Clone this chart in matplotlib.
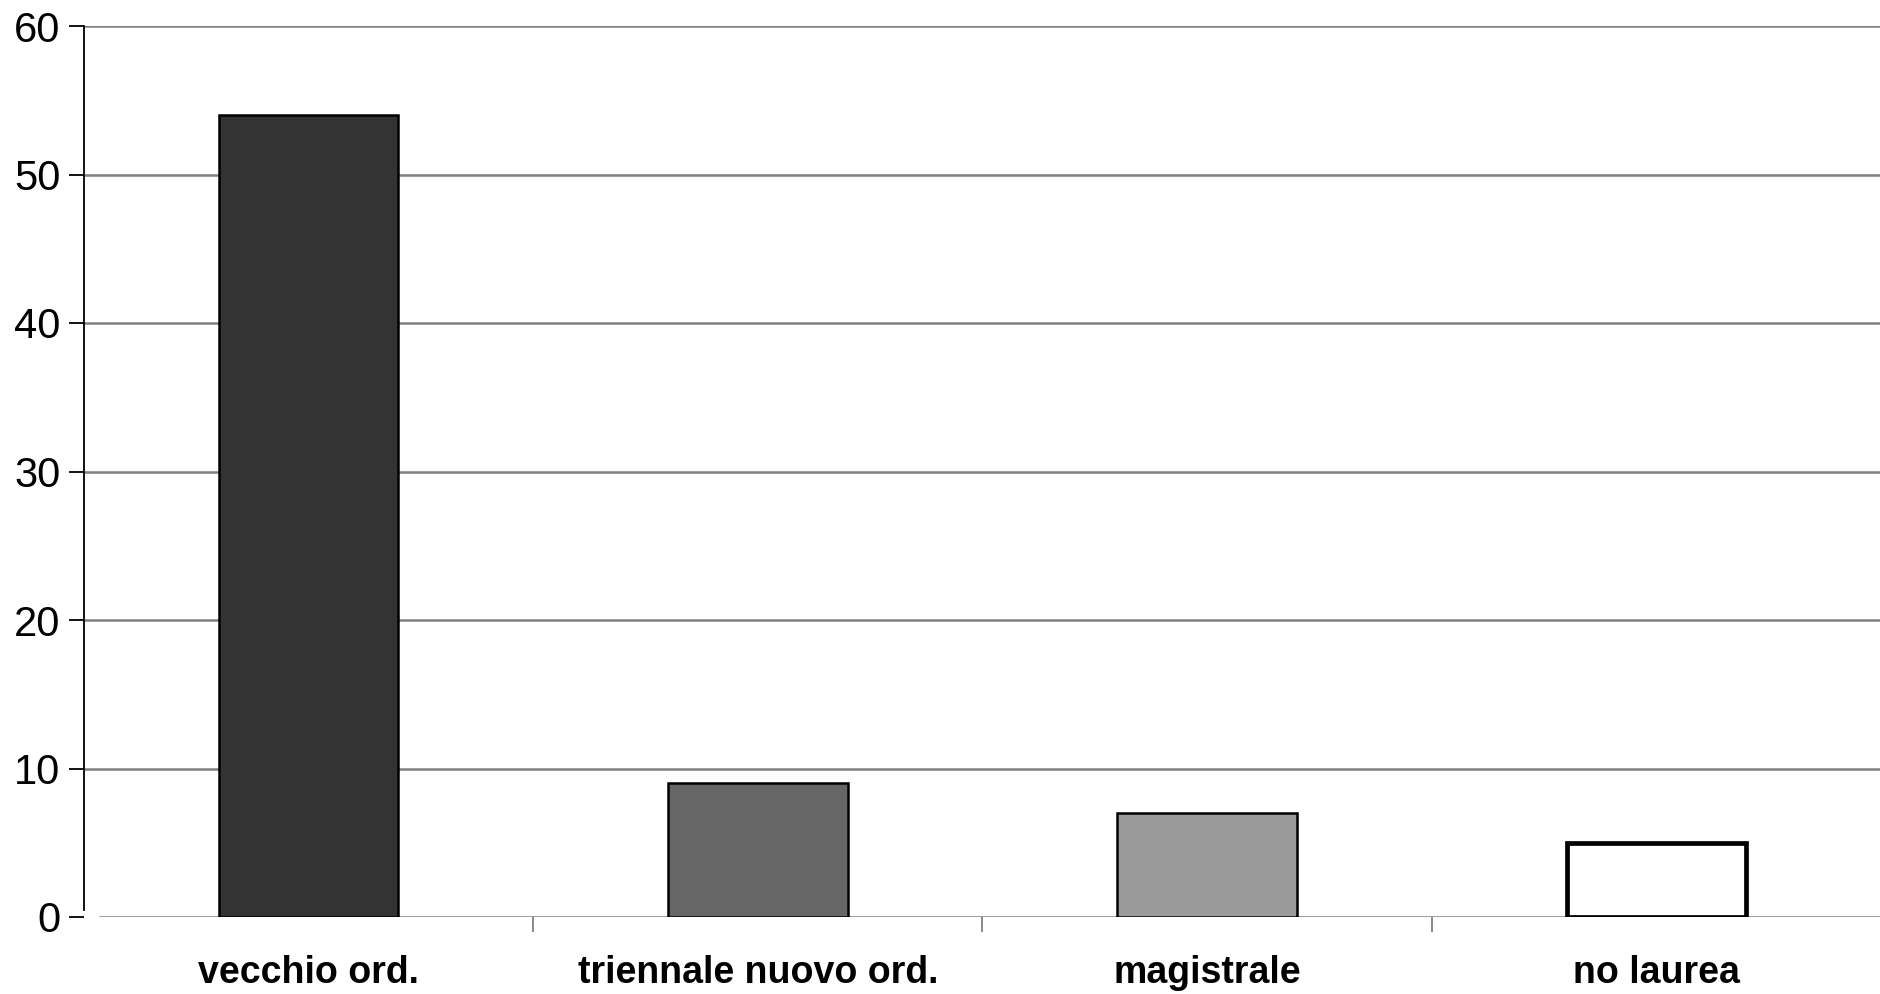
import matplotlib.pyplot as plt
import numpy as np

plt.rcParams['font.family'] = ['Liberation Sans', 'DejaVu Sans']

# data
categories = ['vecchio ord.', 'triennale nuovo ord.', 'magistrale', 'no laurea']
values = [54, 9, 7, 5]
bar_colors = ['#333333', '#666666', '#999999', '#ffffff']
edge_widths = [1.8, 1.8, 1.8, 3.4]
y_ticks = [0, 10, 20, 30, 40, 50, 60]

fig = plt.figure(figsize=(18.81, 9.94), dpi=100)
ax = fig.add_axes([84/1881, 1-917/994, 1-84/1881, (917-26)/994])

x = np.arange(len(categories))
# grid lines
for yv in y_ticks[1:]:
    ax.axhline(yv, color='#808080', lw=1.8, zorder=1)
# x axis line (starts a bit right of the y axis)
ax.axhline(0, xmin=16/1797, xmax=1, color='#808080', lw=1.8, zorder=1)

for i in range(len(categories)):
    ax.bar(x[i], values[i], width=0.4, color=bar_colors[i], edgecolor='black',
           linewidth=edge_widths[i], zorder=3)

ax.set_xlim(-0.5, len(categories) - 0.5)
ax.set_ylim(0, 60)

for s in ['top', 'right', 'bottom']:
    ax.spines[s].set_visible(False)
ax.spines['left'].set_linewidth(1.3)
ax.spines['left'].set_bounds(0.5, 60)

ax.set_yticks(y_ticks)
ax.set_yticklabels([str(v) for v in y_ticks], fontsize=30)
ax.tick_params(axis='y', direction='out', length=11, width=1.3, pad=6)

# category boundary ticks
ax.set_xticks(x[:-1] + 0.5)
ax.set_xticklabels([])
ax.tick_params(axis='x', direction='out', length=11, width=1.3, color='#808080')
for i, c in enumerate(categories):
    ax.text(x[i], -3.75, c, ha='center', va='center', fontsize=27, fontweight='bold')

plt.savefig('out.png', dpi=100)
